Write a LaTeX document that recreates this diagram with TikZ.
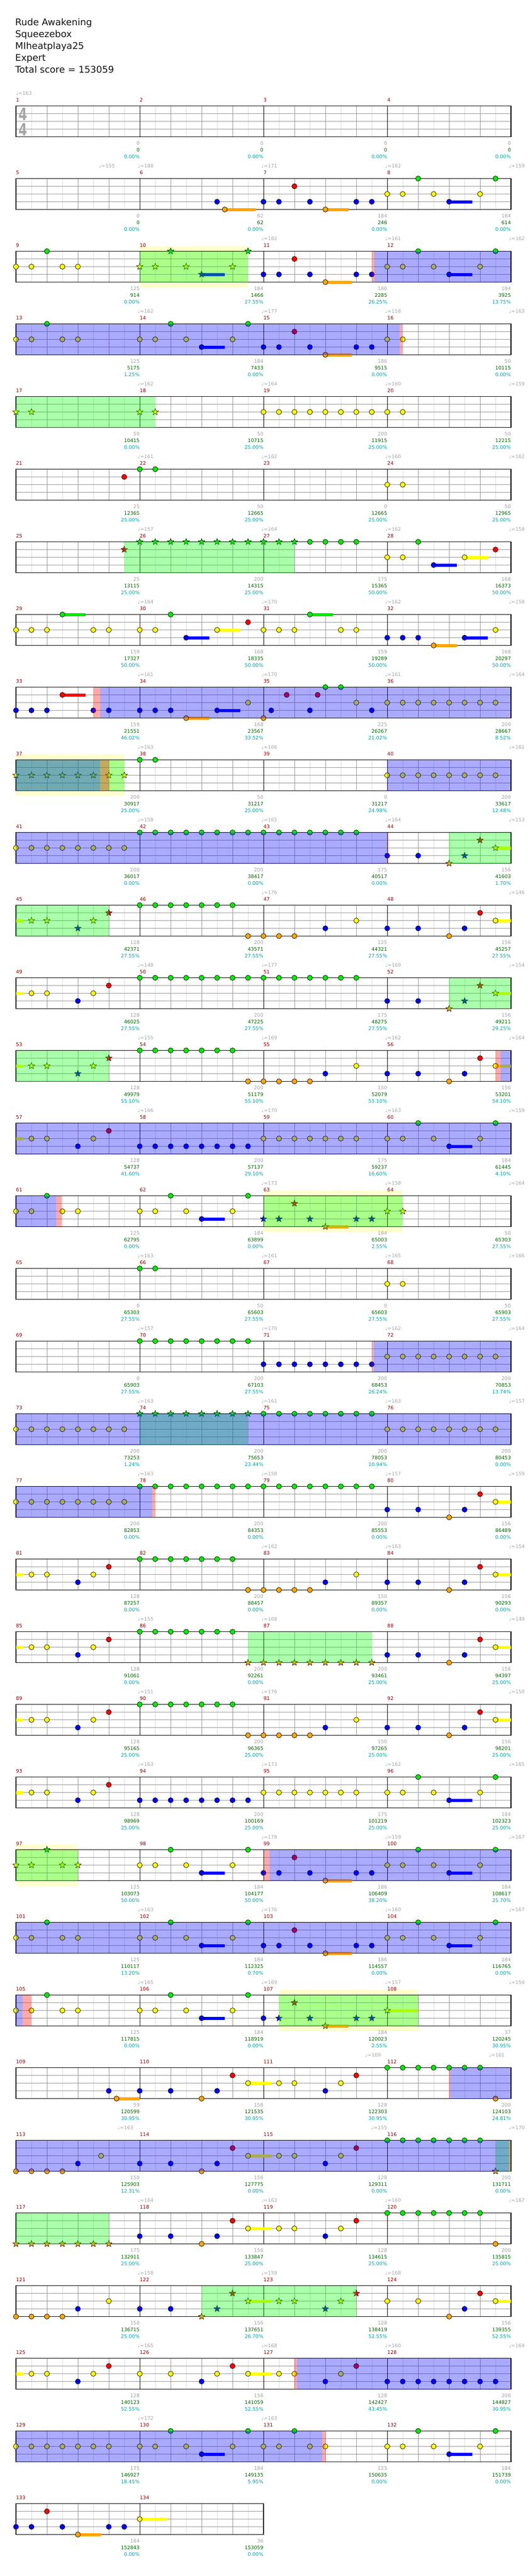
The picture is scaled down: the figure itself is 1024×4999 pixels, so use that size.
\documentclass[tikz,border=0pt]{standalone}
\usepackage{graphicx}
\usepackage{fontspec}
\setmainfont{DejaVu Sans}
\usetikzlibrary{shapes.geometric}

\definecolor{lane0}{RGB}{0,235,0}
\definecolor{lane1}{RGB}{255,0,0}
\definecolor{lane2}{RGB}{255,255,0}
\definecolor{lane3}{RGB}{0,0,255}
\definecolor{lane4}{RGB}{255,165,0}
\definecolor{measred}{RGB}{139,0,0}
\definecolor{pointgray}{RGB}{160,160,160}
\definecolor{totalgreen}{RGB}{0,100,0}
\definecolor{pctteal}{RGB}{0,160,160}
\definecolor{tempogray}{RGB}{165,165,165}
\definecolor{beatgray}{RGB}{150,150,150}
\definecolor{halfgray}{RGB}{218,218,218}
\definecolor{paleyellow}{RGB}{255,255,206}
\definecolor{titleblack}{RGB}{20,20,20}

\def\patA{0/2/0,2/2/0,4/0/0,6/2/0,8/2/0}
\def\patC{0/3/0,2/3/0,4/1/0,6/3/0,8/4/3.4,12/3/0,14/3/0}
\def\patCc{0/3/0,2/3/0,4/1/0,6/3/0,8/4/3,12/3/0,14/3/0}
\def\patD{0/2/0,2/2/0,4/0/0,6/2/0,8/3/3,12/2/0,14/0/0}
\def\patE{8/4/0,10/3/0,12/1/0,14/2/2}
\def\patEb{0/3/0,4/3/0}
\def\patF{2/2/0,4/2/0,8/3/0,10/2/0,12/1/0}
\def\patH{0/3/0,4/3/0,8/4/0,10/3/0,12/1/0,14/2/3}
\def\patO{0/4/0,2/4/0,4/4/0,6/4/0,8/3/0,12/2/0}
\def\runG{0/0/0,2/0/0,4/0/0,6/0/0,8/0/0,10/0/0,12/0/0}
\def\runY{0/2/0,2/2/0,4/2/0,6/2/0,8/2/0,10/2/0,12/2/0}
\def\runO{0/4/0,2/4/0,4/4/0,6/4/0,8/4/0,10/4/0,12/4/0}
\def\fullG{\runG,14/0/0}
\def\fullY{\runY,14/2/0}
\def\fullO{\runO,14/4/0}
\def\fullB{0/3/0,2/3/0,4/3/0,6/3/0,8/3/0,10/3/0,12/3/0,14/3/0}
\def\pairG{0/0/0,2/0/0}
\def\pairY{0/2/0,2/2/0}

\newcommand\roundhead{\draw[notehead,fill=lane\nl] (\nx,\ny) circle (5);}
\newcommand\starhead{\node[starnote,fill=lane\nl] (star\nm-\nq) at (\nx,\ny) {};}
\newcommand\putnotes[3]{%
  \pgfmathtruncatemacro\nrow{(#1-1)/4}%
  \pgfmathtruncatemacro\ncol{mod(#1-1,4)}%
  \def\nm{#1}%
  \edef\nlist{#2}%
  \foreach \np/\nl/\nd [count=\nq] in \nlist {%
    \pgfmathsetmacro\nx{31+15*(16*\ncol+\np)}%
    \pgfmathsetmacro\ny{205.5+141*\nrow+15*\nl}%
    \ifdim\nd pt>0pt \fill[lane\nl] (\nx,{\ny-3}) rectangle ++({15*\nd},6);\fi
    #3%
  }%
}
\newcommand\circnotes[2]{\putnotes{#1}{#2}{\roundhead}}
\newcommand\starnotes[2]{\putnotes{#1}{#2}{\starhead}}
\newcommand\tailnote[1]{\putnotes{#1}{0/2/0.96}{}}

\begin{document}
\begin{tikzpicture}[x=1pt,y=-1pt,
    notehead/.style={draw=black,line width=0.7pt},
    starnote/.style={star,star points=5,star point ratio=2.3,minimum size=13pt,inner sep=0pt,draw=black,line width=0.6pt},
    halfline/.style={halfgray,line width=0.8pt},
    beatline/.style={beatgray,line width=0.8pt},
    laneline/.style={beatgray,line width=0.8pt},
    barline/.style={black,line width=0.9pt},
    staffbox/.style={black,line width=1.1pt},
    spgreen/.style={fill=green,fill opacity=0.333},
    spblue/.style={fill=blue,fill opacity=0.333},
    sppink/.style={fill=red,fill opacity=0.333},
    measnum/.style={anchor=base west,inner sep=0pt,text=measred,font=\fontsize{9.5}{11}\selectfont},
    pointsnum/.style={anchor=base east,inner sep=0pt,text=pointgray,font=\fontsize{9.5}{11}\selectfont},
    totalnum/.style={anchor=base east,inner sep=0pt,text=totalgreen,font=\fontsize{9.5}{11}\selectfont},
    pctnum/.style={anchor=base east,inner sep=0pt,text=pctteal,font=\fontsize{9.5}{11}\selectfont},
    tempo/.style={anchor=base west,inner sep=0pt,text=tempogray,font=\fontsize{9.5}{11}\selectfont},
    titletext/.style={anchor=base west,inner sep=0pt,text=titleblack,font=\fontsize{18}{22}\selectfont},
    timesig/.style={inner sep=0pt,text=tempogray,font=\bfseries\fontsize{33}{36}\selectfont}]
\useasboundingbox (0,0) rectangle (1024,4999);
\fill[white] (0,0) rectangle (1024,4999);

\node[titletext] (song) at (29.5,49.3) {Rude Awakening};
\node[titletext] (artist) at (29.5,72.4) {Squeezebox};
\node[titletext] (charter) at (29.5,95.5) {MIheatplaya25};
\node[titletext] (level) at (29.5,118.6) {Expert};
\node[titletext] (total) at (29.5,141.7) {Total score = 153059};

\foreach \r/\a/\b in {2/16/30,9/0/14,15/32/50,24/0/8,26/34/52}
  \fill[paleyellow] ({31+15*\a},{195+141*\r}) rectangle ({31+15*\b},{276+141*\r});

\foreach \r in {0,...,33} {
  \pgfmathsetmacro\T{205.5+141*\r}
  \pgfmathtruncatemacro\ns{\r==33 ? 32 : 64}
  \foreach \i in {2,6,...,\ns} \draw[halfline] ({31+15*\i},\T) -- ++(0,60);
  \foreach \k in {1,2,3} \draw[laneline] (31,{\T+15*\k}) -- ++({15*\ns},0);
  \foreach \i in {4,8,...,\ns} \draw[beatline] ({31+15*\i},\T) -- ++(0,60);
  \foreach \i in {16,32,...,\ns} \draw[barline] ({31+15*\i},\T) -- ++(0,60);
  \draw[staffbox] (31,\T) rectangle ++({15*\ns},60);
}
\node[timesig] (sigtop) at (44.5,221) {\scalebox{0.72}[1]{4}};
\node[timesig] (sigbot) at (44.5,251) {\scalebox{0.72}[1]{4}};

\circnotes{6}{10/3/0,11/4/4}
\circnotes{7}{\patCc}
\circnotes{8}{\patD}
\circnotes{9}{\patA}
\starnotes{10}{\patD}
\circnotes{11}{\patC}
\circnotes{12}{\patD}
\circnotes{13}{\patA}
\circnotes{14}{\patD}
\circnotes{15}{\patC}
\circnotes{16}{\pairY}
\starnotes{17}{\pairY}
\starnotes{18}{\pairY}
\circnotes{19}{\fullY}
\circnotes{20}{\pairY}
\circnotes{21}{14/1/0}
\circnotes{22}{\pairG}
\circnotes{24}{\pairY}
\starnotes{25}{14/1/0}
\starnotes{26}{\fullG}
\starnotes{27}{0/0/0,2/0/0,4/0/0}
\circnotes{27}{6/0/0,8/0/0,10/0/0,12/0/0}
\circnotes{28}{0/2/0,2/2/0,4/0/0,6/3/3,10/2/3,14/1/0}
\circnotes{29}{0/2/0,2/2/0,4/2/0,6/0/3,10/2/0,12/2/0}
\circnotes{30}{0/2/0,2/2/0,4/0/0,6/3/3,10/2/3,14/1/0}
\circnotes{31}{0/2/0,2/2/0,4/2/0,6/0/3,10/2/0,12/2/0}
\circnotes{32}{0/3/0,2/3/0,4/3/0,6/4/3,10/3/3,14/2/0}
\circnotes{33}{0/3/0,2/3/0,4/3/0,6/1/3,10/3/0,12/3/0}
\circnotes{34}{0/3/0,2/3/0,4/3/0,6/4/3,10/3/3,14/2/0}
\circnotes{35}{0/4/0,1/3/0,3/1/0,6/3/0,7/1/0,8/0/0,10/0/0,12/2/0,14/3/0}
\circnotes{36}{\fullY}
\starnotes{37}{\fullY}
\circnotes{38}{\pairG}
\circnotes{40}{\fullY}
\circnotes{41}{\fullY}
\circnotes{42}{\fullG}
\circnotes{43}{\runG}
\circnotes{44}{\patEb}
\starnotes{44}{\patE}
\tailnote{45}
\starnotes{45}{\patF}
\circnotes{46}{\runG,14/4/0}
\circnotes{47}{0/4/0,2/4/0,4/4/0,8/3/0,12/2/0}
\circnotes{48}{\patEb,\patE}
\tailnote{49}
\circnotes{49}{\patF}
\circnotes{50}{\fullG}
\circnotes{51}{\runG}
\circnotes{52}{\patEb}
\starnotes{52}{\patE}
\tailnote{53}
\starnotes{53}{\patF}
\circnotes{54}{\runG,14/4/0}
\circnotes{55}{\patO}
\circnotes{56}{\patEb,\patE}
\tailnote{57}
\circnotes{57}{\patF}
\circnotes{58}{\fullB}
\circnotes{59}{\runY}
\circnotes{60}{\patD}
\circnotes{61}{\patA}
\circnotes{62}{\patD}
\starnotes{63}{\patCc}
\starnotes{64}{\pairY}
\circnotes{66}{\pairG}
\circnotes{68}{\pairY}
\circnotes{70}{\fullG}
\circnotes{71}{\fullB}
\circnotes{72}{\fullY}
\circnotes{73}{\fullY}
\starnotes{74}{\fullG}
\circnotes{75}{\fullG}
\circnotes{76}{\fullY}
\circnotes{77}{\fullY}
\circnotes{78}{\fullG}
\circnotes{79}{\fullG}
\circnotes{80}{\patEb,\patE}
\tailnote{81}
\circnotes{81}{\patF}
\circnotes{82}{\runG,14/4/0}
\circnotes{83}{\patO}
\circnotes{84}{\patEb,\patE}
\tailnote{85}
\circnotes{85}{\patF}
\circnotes{86}{\runG}
\starnotes{86}{14/4/0}
\starnotes{87}{\fullO}
\circnotes{88}{\patEb,\patE}
\tailnote{89}
\circnotes{89}{\patF}
\circnotes{90}{\runG,14/4/0}
\circnotes{91}{\patO}
\circnotes{92}{\patEb,\patE}
\tailnote{93}
\circnotes{93}{\patF}
\circnotes{94}{\fullB}
\circnotes{95}{\runY}
\circnotes{96}{\patD}
\starnotes{97}{\patA}
\circnotes{98}{\patD}
\circnotes{99}{\patC}
\circnotes{100}{\patD}
\circnotes{101}{\patA}
\circnotes{102}{\patD}
\circnotes{103}{\patC}
\circnotes{104}{\patD}
\circnotes{105}{\patA}
\circnotes{106}{\patD}
\circnotes{107}{0/3/0}
\starnotes{107}{2/3/0,4/1/0,6/3/0,8/4/3,12/3/0,14/3/0}
\starnotes{108}{0/2/4}
\circnotes{109}{12/3/0,13/4/3}
\circnotes{110}{\patH}
\circnotes{111}{\patF}
\circnotes{112}{\runG,14/4/0}
\circnotes{113}{0/4/0,2/4/0,4/4/0,6/4/0,8/3/0,11/2/0}
\circnotes{114}{\patH}
\circnotes{115}{\patF}
\circnotes{116}{\runG}
\starnotes{116}{14/4/0}
\starnotes{117}{\runO}
\circnotes{118}{\patH}
\circnotes{119}{\patF}
\circnotes{120}{\runG,14/4/0}
\circnotes{121}{\patO}
\circnotes{122}{\patEb}
\starnotes{122}{8/4/0,10/3/0,12/1/0,14/2/3}
\starnotes{123}{\patF}
\circnotes{124}{0/2/0,4/2/0,\patE}
\tailnote{125}
\circnotes{125}{\patF}
\circnotes{126}{0/2/0,4/2/0,8/3/0,10/2/0,12/1/0,14/2/3}
\circnotes{127}{\patF}
\circnotes{128}{\fullB}
\circnotes{129}{\runY}
\circnotes{130}{\patD}
\circnotes{131}{\patA}
\circnotes{132}{\patD}
\circnotes{133}{\patCc}
\circnotes{134}{0/2/3.5}

\foreach \r/\a/\b in {2/16/30,4/0/18,6/14/36,9/0/14,10/56/64,11/0/12,12/56/64,13/0/12,15/32/50,18/16/30,21/30/46,24/0/8,26/34/52,28/62/64,29/0/12,30/24/44}
  \fill[spgreen] ({31+15*\a},{205.5+141*\r}) rectangle ({31+15*\b},{265.5+141*\r});
\foreach \r/\a/\b in {2/46.3/64,3/0/49.6,8/10.84/64,9/0/10.84,9/48/64,10/0/48,13/62.65/64,14/0/64,15/0/5.18,17/46.26/64,18/0/64,19/0/17.6,24/32.8/64,25/0/64,26/0/0.85,27/56.1/64,28/0/63.74,31/36.3/64,32/0/39.6}
  \fill[spblue] ({31+15*\a},{205.5+141*\r}) rectangle ({31+15*\b},{265.5+141*\r});
\foreach \r/\a/\b in {2/46/46.3,3/49.6/50,8/9.97/10.84,9/10.84/11.97,10/48/48.1,13/62/62.65,15/5.18/5.96,17/46/46.26,19/17.6/18,24/32/32.8,26/0.85/2,27/56/56.1,28/63.74/64,31/36/36.3,32/39.6/40}
  \fill[sppink] ({31+15*\a},{205.5+141*\r}) rectangle ({31+15*\b},{265.5+141*\r});

\node[tempo] (bpm0) at (31,184.6) {♩=163};
\foreach \r/\s/\v [count=\q] in {1/11/155,1/16/188,1/32/171,1/48/162,1/64/159,
    2/32/182,2/48/161,2/64/162,3/16/162,3/32/177,3/48/158,3/64/163,
    4/16/162,4/32/164,4/48/160,4/64/159,5/16/161,5/32/162,5/48/160,5/64/162,
    6/16/157,6/32/164,6/48/162,6/64/159,7/16/164,7/32/170,7/48/162,7/64/158,
    8/16/161,8/32/170,8/48/161,8/64/164,9/16/163,9/32/166,9/64/161,
    10/16/158,10/32/165,10/48/164,10/64/153,11/32/176,11/64/146,
    12/16/148,12/32/177,12/48/169,12/64/154,13/16/155,13/32/169,13/48/162,13/64/164,
    14/16/166,14/32/170,14/48/163,14/64/159,15/32/173,15/48/158,15/64/164,
    16/16/163,16/32/161,16/48/165,16/64/166,17/16/157,17/32/170,17/48/162,17/64/164,
    18/16/163,18/32/161,18/48/163,18/64/157,19/16/163,19/32/158,19/48/157,19/64/159,
    20/32/162,20/48/163,20/64/154,21/16/155,21/32/168,21/64/149,
    22/16/151,22/32/176,22/64/150,23/16/163,23/32/173,23/48/162,23/64/165,
    24/32/178,24/48/159,24/64/167,25/16/163,25/32/176,25/48/160,25/64/167,
    26/16/165,26/32/169,26/48/157,26/64/156,27/45.4/169,27/61.4/161,
    28/13.4/163,28/46.2/155,28/64/170,29/16/164,29/32/163,29/48/160,29/64/167,
    30/16/158,30/32/159,30/48/168,31/16/165,31/32/168,31/48/160,31/64/164,
    32/16/172,32/32/163}
  \node[tempo] (bpm\q) at ({27+15*\s},{184.6+141*\r}) {♩=\v};

\foreach \m/\pa/\pb/\pc in {1/0/0/0.00,2/0/0/0.00,3/0/0/0.00,4/0/0/0.00,
    5/0/0/0.00,6/62/62/0.00,7/184/246/0.00,8/184/614/0.00,
    9/125/914/0.00,10/184/1466/27.55,11/186/2285/26.25,12/184/3925/13.75,
    13/125/5175/1.25,14/184/7433/0.00,15/186/9515/0.00,16/50/10115/0.00,
    17/50/10415/0.00,18/50/10715/25.00,19/200/11915/25.00,20/50/12215/25.00,
    21/25/12365/25.00,22/50/12665/25.00,23/0/12665/25.00,24/50/12965/25.00,
    25/25/13115/25.00,26/200/14315/25.00,27/175/15365/50.00,28/168/16373/50.00,
    29/159/17327/50.00,30/168/18335/50.00,31/159/19289/50.00,32/168/20297/50.00,
    33/159/21551/46.02,34/168/23567/33.52,35/225/26267/21.02,36/200/28667/8.52,
    37/200/30917/25.00,38/50/31217/25.00,39/0/31217/24.98,40/200/33617/12.48,
    41/200/36017/0.00,42/200/38417/0.00,43/175/40517/0.00,44/156/41603/1.70,
    45/128/42371/27.55,46/200/43571/27.55,47/125/44321/27.55,48/156/45257/27.55,
    49/128/46025/27.55,50/200/47225/27.55,51/175/48275/27.55,52/156/49211/29.25,
    53/128/49979/55.10,54/200/51179/55.10,55/150/52079/55.10,56/156/53201/54.10,
    57/128/54737/41.60,58/200/57137/29.10,59/175/59237/16.60,60/184/61445/4.10,
    61/125/62795/0.00,62/184/63899/0.00,63/184/65003/2.55,64/50/65303/27.55,
    65/0/65303/27.55,66/50/65603/27.55,67/0/65603/27.55,68/50/65903/27.55,
    69/0/65903/27.55,70/200/67103/27.55,71/200/68453/26.24,72/200/70853/13.74,
    73/200/73253/1.24,74/200/75653/23.44,75/200/78053/10.94,76/200/80453/0.00,
    77/200/82853/0.00,78/200/84353/0.00,79/200/85553/0.00,80/156/86489/0.00,
    81/128/87257/0.00,82/200/88457/0.00,83/150/89357/0.00,84/156/90293/0.00,
    85/128/91061/0.00,86/200/92261/0.00,87/200/93461/25.00,88/156/94397/25.00,
    89/128/95165/25.00,90/200/96365/25.00,91/150/97265/25.00,92/156/98201/25.00,
    93/128/98969/25.00,94/200/100169/25.00,95/175/101219/25.00,96/184/102323/25.00,
    97/125/103073/50.00,98/184/104177/50.00,99/186/106409/38.20,100/184/108617/25.70,
    101/125/110117/13.20,102/184/112325/0.70,103/186/114557/0.00,104/184/116765/0.00,
    105/125/117815/0.00,106/184/118919/0.00,107/184/120023/2.55,108/37/120245/30.95,
    109/59/120599/30.95,110/156/121535/30.95,111/128/122303/30.95,112/200/124103/24.81,
    113/150/125903/12.31,114/156/127775/0.00,115/128/129311/0.00,116/200/131711/0.00,
    117/175/132911/25.00,118/156/133847/25.00,119/128/134615/25.00,120/200/135815/25.00,
    121/150/136715/25.00,122/156/137651/26.70,123/128/138419/52.55,124/156/139355/52.55,
    125/128/140123/52.55,126/156/141059/52.55,127/128/142427/43.45,128/200/144827/30.95,
    129/175/146927/18.45,130/184/149135/5.95,131/125/150635/0.00,132/184/151739/0.00,
    133/184/152843/0.00,134/36/153059/0.00} {
  \pgfmathtruncatemacro\mr{(\m-1)/4}
  \pgfmathtruncatemacro\mc{mod(\m-1,4)}
  \pgfmathsetmacro\mx{271+240*\mc}
  \pgfmathsetmacro\my{281.6+141*\mr}
  \node[measnum] (num\m) at ({\mx-240},{\my-84}) {\m};
  \node[pointsnum] (pts\m) at (\mx,\my) {\pa};
  \node[totalnum] (tot\m) at (\mx,{\my+13}) {\pb};
  \node[pctnum] (pct\m) at (\mx,{\my+26}) {\pc\%};
}
\end{tikzpicture}
\end{document}
